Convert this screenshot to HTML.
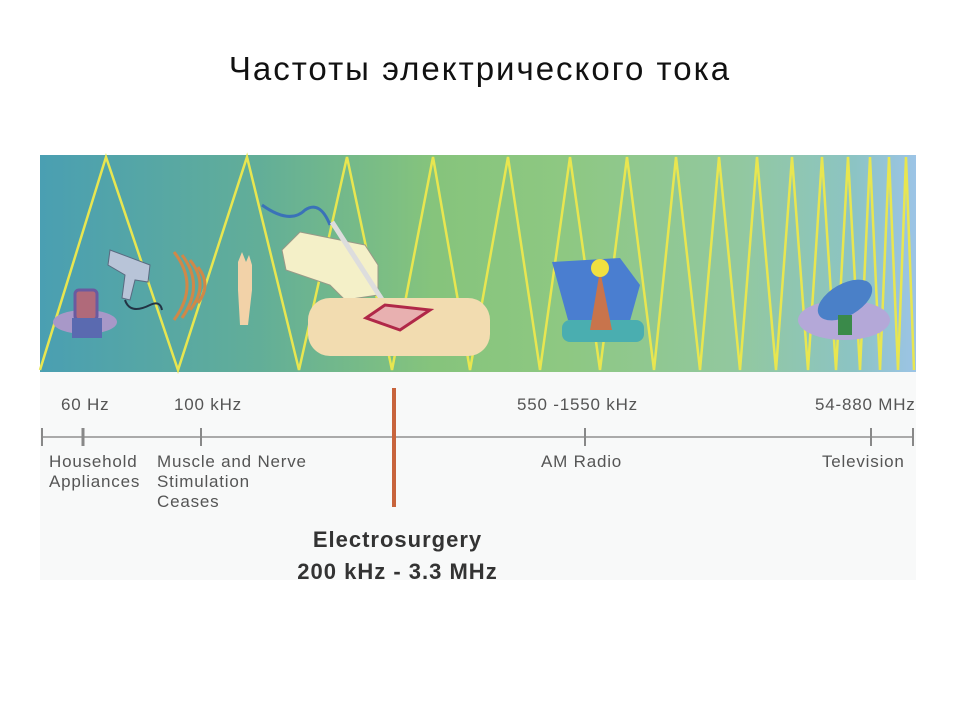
<!DOCTYPE html>
<html><head><meta charset="utf-8"><style>
body{margin:0;width:960px;height:720px;background:#fff;position:relative;overflow:hidden;font-family:"Liberation Sans",sans-serif}
.t{position:absolute;color:#555;font-size:17px;letter-spacing:0.8px;line-height:20px;white-space:nowrap}
</style></head><body>
<div style="position:absolute;left:0;top:50px;width:960px;text-align:center;font-family:'Liberation Sans','DejaVu Sans',sans-serif;font-size:33px;letter-spacing:2px;color:#111">Частоты электрического тока</div>
<div style="position:absolute;left:40px;top:372px;width:876px;height:208px;background:#f8f9f9"></div>
<svg style="position:absolute;left:0;top:0" width="960" height="720">
<defs><linearGradient id="g" x1="0" x2="1" y1="0" y2="0">
<stop offset="0" stop-color="#4a9fb2"/><stop offset="0.25" stop-color="#62ae98"/><stop offset="0.45" stop-color="#86c47c"/><stop offset="0.6" stop-color="#8ec882"/><stop offset="0.8" stop-color="#92c8a0"/><stop offset="0.93" stop-color="#8cc4c4"/><stop offset="1" stop-color="#9cc4e6"/></linearGradient></defs>
<rect x="40" y="155" width="876" height="217" fill="url(#g)"/>
<polyline fill="none" stroke="#e8e650" stroke-width="2.5" points="40,370 106,157 178,370 247,157 299,370 347,157 392,370 433,157 470,370 508,157 540,370 570,157 600,370 627,157 654,370 676,157 700,370 719,157 740,370 757,157 776,370 792,157 808,370 822,157 836,370 848,157 860,370 870,157 880,370 889,157 898,370 906,157 914,370"/>
<ellipse cx="85" cy="322" rx="32" ry="12" fill="#a898c8"/>
<rect x="75" y="290" width="22" height="30" rx="4" fill="#b06a7a" stroke="#6a5aa0" stroke-width="3"/>
<rect x="72" y="318" width="30" height="20" fill="#5a6ab0"/>
<path d="M110 250 L150 265 L148 282 L135 280 L130 300 L122 298 L125 275 L108 265Z" fill="#b8c4d8" stroke="#5a6a80"/>
<path d="M125 300 Q130 315 150 305 Q160 300 162 310" stroke="#234" fill="none" stroke-width="2"/>
<g fill="none" stroke="#d08848" stroke-width="3"><path d="M190 260 Q210 285 190 310"/><path d="M182 255 Q205 285 182 318"/><path d="M198 267 Q212 285 198 303"/><path d="M174 252 Q200 285 174 320"/></g>
<path d="M238 262 L242 252 L246 262 L249 255 L252 265 L252 290 L248 325 L240 325 L238 290Z" fill="#f2d2a8"/>
<path d="M262 205 Q290 225 305 210 Q320 200 330 225" stroke="#3a72b8" stroke-width="3" fill="none"/>
<path d="M282 250 L300 232 L365 245 L378 265 L378 295 L345 300 L330 285 L286 270Z" fill="#f4f0c8" stroke="#998" stroke-width="1"/>
<line x1="332" y1="222" x2="390" y2="312" stroke="#ddd" stroke-width="5"/>
<rect x="308" y="298" width="182" height="58" rx="22" fill="#f2dcb0"/>
<path d="M366 318 L385 305 L430 310 L400 330Z" fill="#e8b0b0" stroke="#b02848" stroke-width="3"/>
<path d="M552 262 L620 258 L640 285 L628 328 L568 320Z" fill="#4a7ed0"/>
<rect x="562" y="320" width="82" height="22" rx="8" fill="#4aaeb0"/>
<polygon points="600,270 590,330 612,330" fill="#c8744c"/>
<circle cx="600" cy="268" r="9" fill="#f0e040"/>
<ellipse cx="844" cy="320" rx="46" ry="20" fill="#b4a8d8"/>
<ellipse cx="845" cy="300" rx="30" ry="16" fill="#4a80c8" transform="rotate(-30 845 300)"/>
<rect x="838" y="315" width="14" height="20" fill="#3a8a4a"/>
<g stroke="#888" stroke-width="2"><line x1="42" y1="437" x2="914" y2="437" stroke="#aaa"/>
<line x1="42" y1="428" x2="42" y2="446"/><line x1="83" y1="428" x2="83" y2="446" stroke-width="3"/><line x1="201" y1="428" x2="201" y2="446"/><line x1="585" y1="428" x2="585" y2="446"/><line x1="871" y1="428" x2="871" y2="446"/><line x1="913" y1="428" x2="913" y2="446"/></g>
<line x1="394" y1="388" x2="394" y2="507" stroke="#c8643c" stroke-width="4"/>
</svg>
<div class="t" style="left:61px;top:395px">60 Hz</div>
<div class="t" style="left:174px;top:395px">100 kHz</div>
<div class="t" style="left:517px;top:395px">550 -1550 kHz</div>
<div class="t" style="left:815px;top:395px">54-880 MHz</div>
<div class="t" style="left:49px;top:452px">Household<br>Appliances</div>
<div class="t" style="left:157px;top:452px">Muscle and Nerve<br>Stimulation<br>Ceases</div>
<div class="t" style="left:541px;top:452px">AM Radio</div>
<div class="t" style="left:822px;top:452px">Television</div>
<div style="position:absolute;left:250px;top:524px;width:295px;text-align:center;font-weight:bold;font-size:22px;letter-spacing:1px;line-height:32px;color:#333">Electrosurgery<br>200 kHz - 3.3 MHz</div>
</body></html>
